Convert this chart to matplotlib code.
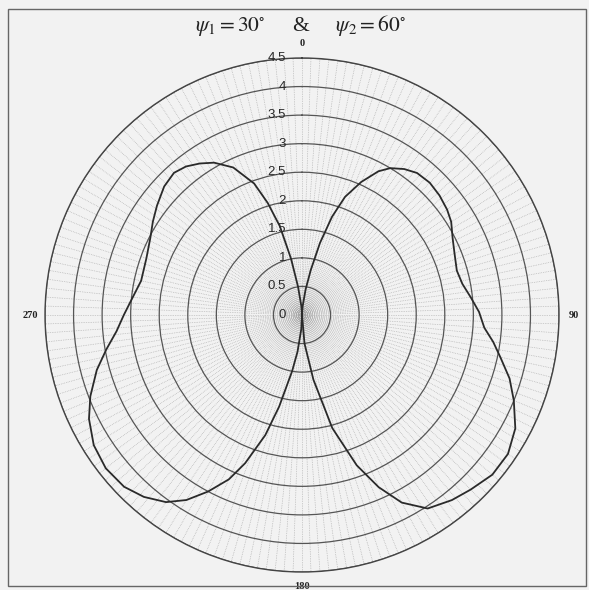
import numpy as np
import matplotlib
matplotlib.use("Agg")
import matplotlib.pyplot as plt
import matplotlib.transforms as mtransforms
from matplotlib.patches import Rectangle

# ---- data ----
right_theta_deg = [0, 4, 8, 11, 14, 17, 20, 24, 28, 31, 35, 39, 44, 49, 54, 58, 63, 68, 74, 79,
                   84, 89, 94, 98, 102, 107, 112, 118, 124, 130, 136, 141, 147, 152, 156, 160, 165, 170, 175, 180]
right_r = [0, 0.15, 0.45, 0.8, 1.3, 1.8, 2.2, 2.55, 2.85, 3.0, 3.12, 3.2, 3.22, 3.19, 3.14, 3.08, 2.96, 2.88, 2.82, 2.86,
           2.97, 3.1, 3.2, 3.38, 3.55, 3.8, 4.0, 4.23, 4.35, 4.35, 4.25, 4.17, 4.04, 3.72, 3.3, 2.8, 2.05, 1.15, 0.5, 0]

left_theta_deg = [180, 183, 187, 190, 194, 197, 201, 204, 208, 212, 216, 221, 226, 232, 238, 244, 249, 255, 260, 265,
                  270, 275, 282, 290, 297, 302, 307, 313, 318, 322, 326, 330, 335, 340, 343, 346, 349, 352, 356, 360]
left_r = [0, 0.25, 0.65, 1.0, 1.65, 2.2, 2.78, 3.15, 3.5, 3.82, 4.05, 4.22, 4.33, 4.36, 4.3, 4.15, 3.97, 3.72, 3.48, 3.26,
          3.12, 3.0, 2.88, 2.9, 2.98, 3.08, 3.18, 3.3, 3.35, 3.3, 3.2, 3.08, 2.85, 2.45, 2.05, 1.6, 1.0, 0.5, 0.15, 0]

r_ticks = [0.5, 1, 1.5, 2, 2.5, 3, 3.5, 4, 4.5]
r_labels = ["0", "0.5", "1", "1.5", "2", "2.5", "3", "3.5", "4", "4.5"]
r_label_vals = [0, 0.5, 1, 1.5, 2, 2.5, 3, 3.5, 4, 4.5]
angle_labels = {0: "0", 90: "90", 180: "180", 270: "270"}
title = r"$\psi_1 = 30^{\circ}$     &     $\psi_2 = 60^{\circ}$"

# ---- figure ----
plt.rcParams["mathtext.fontset"] = "stix"
bg = "#f2f2f2"
fig = plt.figure(figsize=(5.89, 5.90), dpi=100, facecolor=bg)

# outer frame
fig.patches.append(Rectangle((8 / 589, 4 / 590), 578 / 589, 577 / 590, transform=fig.transFigure,
                             fill=False, edgecolor="#666666", lw=1.0))

ax = fig.add_axes([0.0764, 0.0305, 0.8727, 0.8712], projection="polar", facecolor=bg)
ax.set_theta_zero_location("N")
ax.set_theta_direction(-1)
ax.set_rlim(0, 4.5)

# dense dotted spokes (angular grid)
spoke_deg = np.arange(0, 360, 2)
ax.set_xticks(np.deg2rad(spoke_deg))
ax.set_xticklabels([angle_labels.get(int(d), "") for d in spoke_deg],
                   fontdict=dict(family="Liberation Serif", weight="bold", size=7.5, color="#222222"))
ax.tick_params(axis="x", pad=0)
ax.xaxis.grid(True, color="#a8a8a8", lw=0.5, ls=(0, (1, 1.5)))

# range circles
ax.set_yticks(r_ticks)
ax.set_yticklabels([])
ax.yaxis.grid(True, color="#555555", lw=0.9, ls="-")
ax.spines["polar"].set_color("#444444")
ax.spines["polar"].set_linewidth(1.0)

# radial labels along the 0-degree axis
off = mtransforms.offset_copy(ax.transData, fig=fig, x=-16, y=0, units="dots")
for v, lab in zip(r_label_vals, r_labels):
    ax.text(0, v, lab, transform=off, ha="right", va="center",
            family="Liberation Sans", size=9.5, color="#2a2a2a")

# pattern
ax.plot(np.deg2rad(right_theta_deg), right_r, color="#2a2a2a", lw=1.3)
ax.plot(np.deg2rad(left_theta_deg), left_r, color="#2a2a2a", lw=1.3)

fig.text(0.51, 1 - 25 / 590, title, ha="center", va="center",
         family="Liberation Serif", size=15.5, color="#222222")

fig.savefig("out.png", dpi=100, facecolor=bg)
